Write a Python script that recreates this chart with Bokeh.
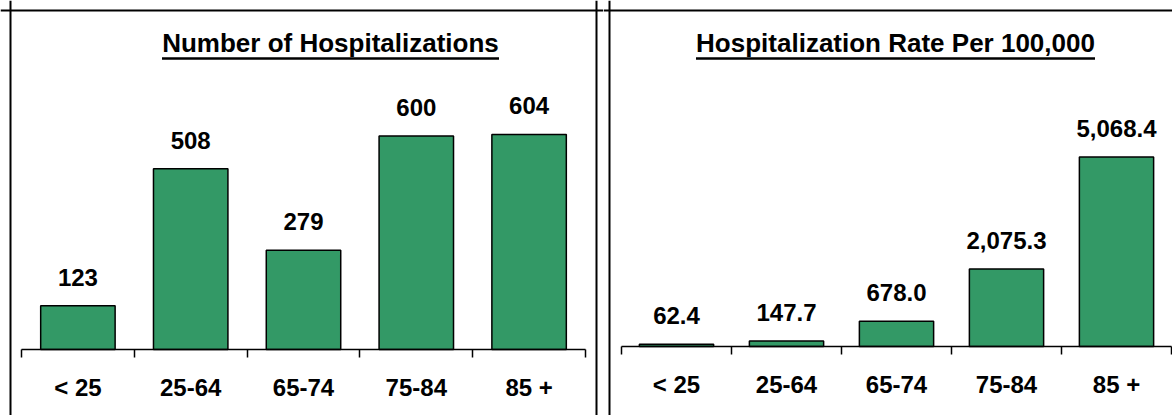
from bokeh.plotting import figure
from bokeh.layouts import row
from bokeh.models import LinearAxis, FixedTicker, Span, ColumnDataSource
from bokeh.core.properties import value
from bokeh.embed import file_html
from bokeh.resources import INLINE

# ---------------- data ----------------
categories = ["< 25", "25-64", "65-74", "75-84", "85 +"]
hospitalizations = [123, 508, 279, 600, 604]
rate_per_100k = [62.4, 147.7, 678.0, 2075.3, 5068.4]
title_left = "Number of Hospitalizations"
title_right = "Hospitalization Rate Per 100,000"

# ---------------- style ----------------
FONT = "Liberation Sans"
BAR_COLOR = "#339966"
H = 415
TEXT_SHIFT = 9.5  # compensation for rendered baseline position


def make_panel(vals, labels, title, width, axis_px, unit_px, base_px, ky,
               border_left_px, border_right_px, title_cx_px, title_w_px, bar_w):
    n = len(vals)
    x0 = -0.5 - axis_px / unit_px
    x1 = x0 + width / unit_px
    y0 = -(H - base_px) / ky
    y1 = base_px / ky

    def dx(px):
        return x0 + px / unit_px

    def dy(py):
        return (base_px - py) / ky

    p = figure(width=width, height=H, output_backend="svg", toolbar_location=None,
               x_range=(x0, x1), y_range=(y0, y1),
               x_axis_location=None, y_axis_location=None, min_border=0)
    p.outline_line_color = None
    p.background_fill_color = "white"
    p.border_fill_color = "white"
    for g in p.grid:
        g.visible = False

    xs = list(range(n))
    src = ColumnDataSource(dict(x=xs, top=vals, lab=labels,
                                ly=[v + (19 + TEXT_SHIFT) / ky for v in vals]))
    p.vbar(x="x", top="top", width=bar_w, bottom=0, source=src,
           fill_color=BAR_COLOR, line_color="black", line_width=1.5)
    p.text(x="x", y="ly", text="lab", source=src, text_align="center",
           text_baseline="alphabetic", text_font=value(FONT),
           text_font_size="24px", text_font_style="bold", text_color="black")

    ax = LinearAxis(fixed_location=0,
                    ticker=FixedTicker(ticks=xs, minor_ticks=[i - 0.5 for i in range(n + 1)]),
                    bounds=(-0.5, n - 0.5))
    ax.major_label_overrides = {i: c for i, c in enumerate(categories)}
    ax.major_tick_line_color = None
    ax.major_tick_in = 0
    ax.major_tick_out = 0
    ax.minor_tick_in = 0
    ax.minor_tick_out = 8
    ax.minor_tick_line_color = "black"
    ax.minor_tick_line_width = 1.5
    ax.axis_line_color = "black"
    ax.axis_line_width = 1.5
    ax.major_label_standoff = 16
    ax.major_label_text_font = FONT
    ax.major_label_text_font_size = "24px"
    ax.major_label_text_font_style = "bold"
    ax.major_label_text_color = "black"
    p.add_layout(ax, "below")

    # panel border
    for bx in (border_left_px, border_right_px):
        if bx is not None:
            p.add_layout(Span(location=dx(bx), dimension="height",
                              line_color="black", line_width=2))
    p.add_layout(Span(location=dy(10), dimension="width", line_color="black", line_width=2))

    # title with underline
    p.text(x=[dx(title_cx_px)], y=[dy(52 - TEXT_SHIFT)], text=[title], text_align="center",
           text_baseline="alphabetic", text_font=value(FONT), text_font_size="26px",
           text_font_style="bold", text_color="black")
    p.segment(x0=[dx(title_cx_px - title_w_px / 2)], x1=[dx(title_cx_px + title_w_px / 2)],
              y0=[dy(58)], y1=[dy(58)], line_color="black", line_width=2.5)
    return p


left_labels = [f"{v:,.0f}" for v in hospitalizations]
right_labels = [f"{v:,.1f}" for v in rate_per_100k]

p1 = make_panel(hospitalizations, left_labels, title_left, width=603,
                axis_px=21, unit_px=112.8, base_px=349, ky=0.356,
                border_left_px=10, border_right_px=596,
                title_cx_px=330, title_w_px=337, bar_w=0.66)
p2 = make_panel(rate_per_100k, right_labels, title_right, width=569,
                axis_px=18, unit_px=110.0, base_px=346, ky=0.0374,
                border_left_px=6, border_right_px=None,
                title_cx_px=292, title_w_px=399, bar_w=0.675)

layout = row(p1, p2)
open("out.html", "w").write(file_html(layout, INLINE))
